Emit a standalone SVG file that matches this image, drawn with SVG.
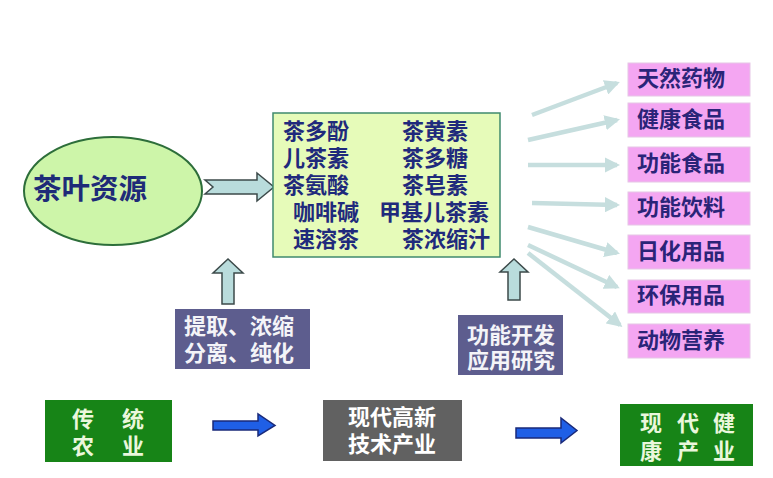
<svg xmlns="http://www.w3.org/2000/svg" width="773" height="478" viewBox="0 0 773 478">
<defs>
<style>
text{font-family:"Liberation Sans","Noto Sans CJK SC",sans-serif;font-weight:bold;dominant-baseline:central}
.nv{fill:#1f2a7c;font-size:22px}
.pk rect{fill:#f4a6f2;stroke:#e6c6e6;stroke-width:1}
.pk text{fill:#2a2478;font-size:22px}
.pu rect{fill:#5d5d8e}
.pu text{fill:#f4f4f8;font-size:22px}
.gr rect{fill:#178417}
.gr text{fill:#eaf7dc;font-size:22px}
.la{stroke:#c6dede;stroke-width:4.5;fill:none;marker-end:url(#ah)}
.up{fill:#b9dcdc;stroke:#3c4a4a;stroke-width:1.5}
.ba{fill:#1f5fe6;stroke:#1a2a7a;stroke-width:1.5}
</style>
<marker id="ah" viewBox="0 0 10 10" refX="8" refY="5" markerWidth="3.4" markerHeight="3.4" orient="auto" markerUnits="strokeWidth">
<path d="M0,0 L10,5 L0,10 Z" fill="#c6dede"/>
</marker>
</defs>
<rect width="773" height="478" fill="#ffffff"/>

<g id="connectors">
<path class="up" d="M205,180 L257,180 L257,173 L274,187 L257,201 L257,194 L205,194 L213,187 Z"/>
<path class="up" d="M222,304 L222,273 L213,273 L228,259 L243,273 L234,273 L234,304 Z"/>
<path class="up" d="M508,300 L508,272 L500,272 L514,259 L528,272 L520,272 L520,300 Z"/>
<line class="la" x1="532" y1="115" x2="617" y2="83"/>
<line class="la" x1="528" y1="140" x2="617" y2="120"/>
<line class="la" x1="528" y1="165" x2="617" y2="165"/>
<line class="la" x1="532" y1="203" x2="617" y2="205"/>
<line class="la" x1="528" y1="227" x2="617" y2="253"/>
<line class="la" x1="528" y1="245" x2="617" y2="287"/>
<line class="la" x1="528" y1="253" x2="620" y2="325"/>
<path class="ba" d="M213,421 L258,421 L258,414 L275,425.5 L258,436 L258,430 L213,430 Z"/>
<path class="ba" d="M516,428 L561,428 L561,418 L577,430.5 L561,443 L561,438 L516,438 Z"/>
</g>

<g id="tea-resource">
<ellipse cx="113" cy="191" rx="89" ry="54" fill="#cdf5a9" stroke="#2d6e3a" stroke-width="2"/>
<text x="33" y="189" style="fill:#1e2b78;font-size:28.5px">茶叶资源</text>
</g>

<g id="components">
<rect x="273" y="113" width="227" height="144" fill="#e6fbb9" stroke="#3f8a6e" stroke-width="1.5"/>
<text class="nv"><tspan x="283" y="131">茶多酚</tspan><tspan x="283" y="158">儿茶素</tspan><tspan x="283" y="185">茶氨酸</tspan><tspan x="293" y="212">咖啡碱</tspan><tspan x="293" y="239">速溶茶</tspan></text>
<text class="nv"><tspan x="402" y="131">茶黄素</tspan><tspan x="402" y="158">茶多糖</tspan><tspan x="402" y="185">茶皂素</tspan><tspan x="379" y="212">甲基儿茶素</tspan><tspan x="402" y="239">茶浓缩汁</tspan></text>
</g>

<g id="extract" class="pu">
<rect x="175" y="309" width="135" height="60"/>
<text><tspan x="184" y="326">提取、浓缩</tspan><tspan x="184" y="353">分离、纯化</tspan></text>
</g>
<g id="research" class="pu">
<rect x="458" y="315" width="105" height="60"/>
<text><tspan x="467" y="335">功能开发</tspan><tspan x="467" y="360">应用研究</tspan></text>
</g>

<g id="p1" class="pk"><rect x="628" y="63" width="122" height="33"/><text x="637" y="78">天然药物</text></g>
<g id="p2" class="pk"><rect x="628" y="103" width="122" height="34"/><text x="637" y="119">健康食品</text></g>
<g id="p3" class="pk"><rect x="628" y="147" width="122" height="35"/><text x="637" y="163">功能食品</text></g>
<g id="p4" class="pk"><rect x="628" y="192" width="122" height="33"/><text x="637" y="207">功能饮料</text></g>
<g id="p5" class="pk"><rect x="628" y="235" width="122" height="34"/><text x="637" y="251">日化用品</text></g>
<g id="p6" class="pk"><rect x="628" y="280" width="122" height="33"/><text x="637" y="295">环保用品</text></g>
<g id="p7" class="pk"><rect x="628" y="324" width="122" height="34"/><text x="637" y="340">动物营养</text></g>

<g id="traditional" class="gr">
<rect x="45" y="400" width="127" height="62"/>
<text><tspan x="72" y="419">传</tspan><tspan x="122" y="419">统</tspan><tspan x="72" y="446">农</tspan><tspan x="122" y="446">业</tspan></text>
</g>
<g id="hightech">
<rect x="323" y="400" width="139" height="61" fill="#616161"/>
<text style="fill:#ffffff;font-size:22px"><tspan x="348" y="417">现代高新</tspan><tspan x="348" y="444">技术产业</tspan></text>
</g>
<g id="health" class="gr">
<rect x="620" y="404" width="133" height="62"/>
<text><tspan x="640" y="423">现</tspan><tspan x="677" y="423">代</tspan><tspan x="713" y="423">健</tspan><tspan x="640" y="451">康</tspan><tspan x="677" y="451">产</tspan><tspan x="713" y="451">业</tspan></text>
</g>
</svg>
